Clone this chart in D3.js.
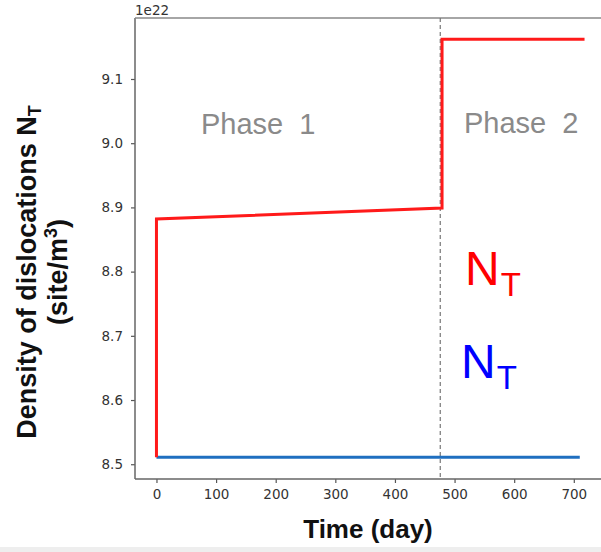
<!DOCTYPE html>
<html>
<head>
<meta charset="utf-8">
<script src="https://cdn.jsdelivr.net/npm/d3@7/dist/d3.min.js"></script>
<style>
  html, body { margin: 0; padding: 0; background: #fff; }
  svg { display: block; }
</style>
</head>
<body>
<svg id="chart" width="601" height="552"></svg>
<script>
// ---- data ----
const redDays   = [0, 0, 479, 479, 718];
const redValues = [8.511, 8.882, 8.899, 9.162, 9.162];
const blueDays   = [0, 710];
const blueValues = [8.511, 8.511];
const phaseBoundaryDay = 476;
const xTicks = [0, 100, 200, 300, 400, 500, 600, 700];
const yTicks = [8.5, 8.6, 8.7, 8.8, 8.9, 9.0, 9.1];
const xDomain = [-36, 754];
const yDomain = [8.477, 9.195];

const svg = d3.select("#chart");
const pLeft = 135, pRight = 606, pTop = 18, pBottom = 479;

const x = d3.scaleLinear().domain(xDomain).range([pLeft, pRight]);
const y = d3.scaleLinear().domain(yDomain).range([pBottom, pTop]);

// bottom grey strip
svg.append("rect").attr("x", 0).attr("y", 547).attr("width", 601).attr("height", 5).attr("fill", "#eeeeee");

// axes
const tickFont = "'DejaVu Sans', sans-serif";
const gx = svg.append("g").attr("transform", `translate(0,${pBottom})`)
  .call(d3.axisBottom(x).tickValues(xTicks).tickFormat(d3.format("d")).tickSize(4).tickPadding(6));
const gy = svg.append("g").attr("transform", `translate(${pLeft},0)`)
  .call(d3.axisLeft(y).tickValues(yTicks).tickFormat(d3.format(".1f")).tickSize(4).tickPadding(8));
[gx, gy].forEach(g => {
  g.select(".domain").remove();
  g.selectAll(".tick line").attr("stroke", "#555").attr("stroke-width", 1.2);
  g.selectAll(".tick text").attr("fill", "#333").style("font-family", tickFont).style("font-size", "13.5px");
});

// spines
svg.append("line").attr("x1", pLeft).attr("x2", pLeft).attr("y1", pTop).attr("y2", pBottom)
  .attr("stroke", "#666").attr("stroke-width", 1.5);
svg.append("line").attr("x1", pLeft).attr("x2", 601).attr("y1", pBottom).attr("y2", pBottom)
  .attr("stroke", "#666").attr("stroke-width", 1.5);
svg.append("line").attr("x1", pLeft).attr("x2", 601).attr("y1", pTop).attr("y2", pTop)
  .attr("stroke", "#888").attr("stroke-width", 1.5);

// offset text
svg.append("text").attr("x", pLeft).attr("y", 15).text("1e22")
  .attr("fill", "#333").style("font-family", tickFont).style("font-size", "13.5px");

// dashed phase boundary
svg.append("line").attr("x1", x(phaseBoundaryDay)).attr("x2", x(phaseBoundaryDay))
  .attr("y1", pTop).attr("y2", pBottom)
  .attr("stroke", "#777").attr("stroke-width", 1.2).attr("stroke-dasharray", "4,3");

const line = d3.line().x(d => x(d[0])).y(d => y(d[1]));
svg.append("path").datum(blueDays.map((d, i) => [d, blueValues[i]]))
  .attr("d", line).attr("fill", "none").attr("stroke", "#1f6fc0").attr("stroke-width", 3);
svg.append("path").datum(redDays.map((d, i) => [d, redValues[i]]))
  .attr("d", line).attr("fill", "none").attr("stroke", "#ff1a1a").attr("stroke-width", 3);

// phase labels
const arial = "'Liberation Sans', Arial, sans-serif";
svg.append("text").attr("x", 201).attr("y", 134).attr("fill", "#8a8a8a")
  .style("font-family", arial).style("font-size", "29px").style("word-spacing", "8px").text("Phase 1");
svg.append("text").attr("x", 464).attr("y", 133).attr("fill", "#8a8a8a")
  .style("font-family", arial).style("font-size", "29px").style("word-spacing", "8px").text("Phase 2");

// N_T labels
function ntLabel(xp, yp, color) {
  const t = svg.append("text").attr("x", xp).attr("y", yp).attr("fill", color)
    .style("font-family", arial);
  t.append("tspan").style("font-size", "48px").text("N");
  t.append("tspan").attr("dy", 11).attr("dx", 1).style("font-size", "33px").text("T");
}
ntLabel(465, 285, "#ff0000");
ntLabel(461, 378, "#0000ff");

// axis labels
svg.append("text").attr("x", 368).attr("y", 538).attr("text-anchor", "middle")
  .style("font-family", arial).style("font-weight", "bold").style("font-size", "26px")
  .attr("fill", "#111").text("Time (day)");

const yl = svg.append("g").attr("transform", "translate(36,272) rotate(-90)");
const t1 = yl.append("text").attr("x", 0).attr("y", 0).attr("text-anchor", "middle")
  .style("font-family", arial).style("font-weight", "bold").style("font-size", "27px").attr("fill", "#111");
t1.append("tspan").text("Density of dislocations N");
t1.append("tspan").attr("dy", 5).style("font-size", "18px").text("T");
const t2 = yl.append("text").attr("x", 0).attr("y", 31).attr("text-anchor", "middle")
  .style("font-family", arial).style("font-weight", "bold").style("font-size", "27px").attr("fill", "#111");
t2.append("tspan").text("(site/m");
t2.append("tspan").attr("dy", -10).style("font-size", "18px").text("3");
t2.append("tspan").attr("dy", 10).text(")");
</script>
</body>
</html>
